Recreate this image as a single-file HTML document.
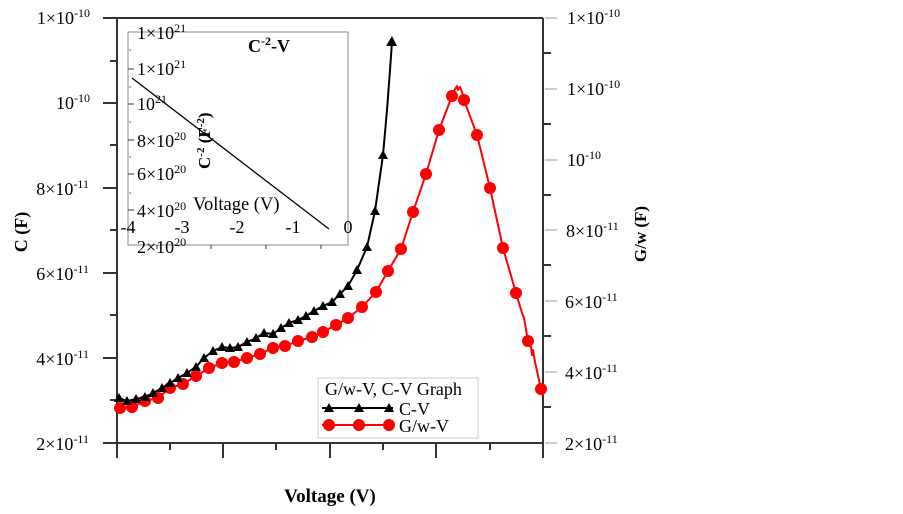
<!DOCTYPE html>
<html><head><meta charset="utf-8"><style>
html,body{margin:0;padding:0;background:#fff;}
svg{display:block;}
text{font-family:"Liberation Serif",serif;fill:#000;}
</style></head><body>
<svg width="903" height="514" viewBox="0 0 903 514" xmlns="http://www.w3.org/2000/svg">
<rect width="903" height="514" fill="#fff"/>
<!-- main frame -->
<g stroke="#333" stroke-width="2" fill="none">
<line x1="103" y1="18" x2="543" y2="18"/>
<line x1="117" y1="18" x2="117" y2="458"/>
<line x1="117" y1="443" x2="543" y2="443"/>
<line x1="543" y1="18" x2="543" y2="458"/>
<line x1="103" y1="103" x2="117" y2="103"/>
<line x1="103" y1="188" x2="117" y2="188"/>
<line x1="103" y1="273" x2="117" y2="273"/>
<line x1="103" y1="358" x2="117" y2="358"/>
<line x1="103" y1="443" x2="117" y2="443"/>
<line x1="110" y1="61" x2="117" y2="61"/>
<line x1="110" y1="145" x2="117" y2="145"/>
<line x1="110" y1="230" x2="117" y2="230"/>
<line x1="110" y1="315" x2="117" y2="315"/>
<line x1="110" y1="400" x2="117" y2="400"/>
<line x1="223" y1="443" x2="223" y2="458"/>
<line x1="330" y1="443" x2="330" y2="458"/>
<line x1="436" y1="443" x2="436" y2="458"/>
<line x1="170" y1="443" x2="170" y2="450"/>
<line x1="276" y1="443" x2="276" y2="450"/>
<line x1="383" y1="443" x2="383" y2="450"/>
<line x1="490" y1="443" x2="490" y2="450"/>
<line x1="543" y1="53" x2="551" y2="53"/>
<line x1="543" y1="124" x2="551" y2="124"/>
<line x1="543" y1="195" x2="551" y2="195"/>
<line x1="543" y1="265" x2="551" y2="265"/>
<line x1="543" y1="336" x2="551" y2="336"/>
<line x1="543" y1="407" x2="551" y2="407"/>
</g>
<g stroke="#ccc" stroke-width="2">
<line x1="545" y1="18" x2="557" y2="18"/>
<line x1="545" y1="89" x2="557" y2="89"/>
<line x1="545" y1="160" x2="557" y2="160"/>
<line x1="545" y1="230" x2="557" y2="230"/>
<line x1="545" y1="301" x2="557" y2="301"/>
<line x1="545" y1="372" x2="557" y2="372"/>
<line x1="545" y1="443" x2="557" y2="443"/>
</g>
<!-- left labels -->
<g font-size="18" text-anchor="end">
<text x="90" y="24">1×10<tspan font-size="12" dy="-7">-10</tspan></text>
<text x="90" y="109">10<tspan font-size="12" dy="-7">-10</tspan></text>
<text x="89" y="195">8×10<tspan font-size="12" dy="-7">-11</tspan></text>
<text x="89" y="280">6×10<tspan font-size="12" dy="-7">-11</tspan></text>
<text x="89" y="365">4×10<tspan font-size="12" dy="-7">-11</tspan></text>
<text x="89" y="450">2×10<tspan font-size="12" dy="-7">-11</tspan></text>
</g>
<!-- right labels -->
<g font-size="18">
<text x="567" y="24">1×10<tspan font-size="12" dy="-7">-10</tspan></text>
<text x="567" y="95">1×10<tspan font-size="12" dy="-7">-10</tspan></text>
<text x="567" y="166">10<tspan font-size="12" dy="-7">-10</tspan></text>
<text x="566" y="237">8×10<tspan font-size="12" dy="-7">-11</tspan></text>
<text x="565" y="308">6×10<tspan font-size="12" dy="-7">-11</tspan></text>
<text x="565" y="379">4×10<tspan font-size="12" dy="-7">-11</tspan></text>
<text x="565" y="450">2×10<tspan font-size="12" dy="-7">-11</tspan></text>
</g>
<!-- axis titles -->
<text x="0" y="0" font-size="18" font-weight="bold" text-anchor="middle" transform="translate(27,232) rotate(-90)">C (F)</text>
<text x="0" y="0" font-size="17" font-weight="bold" text-anchor="middle" transform="translate(646,234) rotate(-90)">G/w (F)</text>
<text x="330" y="502" font-size="19" font-weight="bold" text-anchor="middle">Voltage (V)</text>

<!-- inset -->
<rect x="128" y="32" width="220" height="213" fill="none" stroke="#888" stroke-width="1"/>
<g stroke="#555" stroke-width="1.2">
<line x1="128" y1="69" x2="134" y2="69"/>
<line x1="128" y1="104" x2="134" y2="104"/>
<line x1="128" y1="140" x2="134" y2="140"/>
<line x1="128" y1="174" x2="134" y2="174"/>
<line x1="128" y1="210" x2="134" y2="210"/>
<line x1="157" y1="245" x2="157" y2="249"/>
<line x1="211" y1="245" x2="211" y2="249"/>
<line x1="266" y1="245" x2="266" y2="249"/>
<line x1="321" y1="245" x2="321" y2="249"/>
</g>
<g fill="#bbb">
<rect x="129" y="49" width="2" height="2"/>
<rect x="129" y="86" width="2" height="2"/>
<rect x="129" y="121" width="2" height="2"/>
<rect x="129" y="156" width="2" height="2"/>
<rect x="129" y="192" width="2" height="2"/>
<rect x="129" y="228" width="2" height="2"/>
</g>
<g font-size="18">
<text x="137" y="39">1×10<tspan font-size="12" dy="-7">21</tspan></text>
<text x="137" y="75">1×10<tspan font-size="12" dy="-7">21</tspan></text>
<text x="137" y="110">10<tspan font-size="12" dy="-7">21</tspan></text>
<text x="137" y="147">8×10<tspan font-size="12" dy="-7">20</tspan></text>
<text x="137" y="180">6×10<tspan font-size="12" dy="-7">20</tspan></text>
<text x="137" y="217">4×10<tspan font-size="12" dy="-7">20</tspan></text>
<text x="137" y="253">2×10<tspan font-size="12" dy="-7">20</tspan></text>
</g>
<g font-size="18" text-anchor="middle">
<text x="128" y="233">-4</text>
<text x="182" y="233">-3</text>
<text x="237" y="233">-2</text>
<text x="293" y="233">-1</text>
<text x="348" y="233">0</text>
</g>
<text x="248" y="52" font-size="18" font-weight="bold">C<tspan font-size="12" dy="-7">-2</tspan><tspan dy="7">-V</tspan></text>
<text x="193" y="210" font-size="18.5">Voltage (V)</text>
<text x="0" y="0" font-size="17" font-weight="bold" transform="translate(210,169) rotate(-90)">C<tspan font-size="11" dy="-6">-2</tspan><tspan dy="6"> (F</tspan><tspan font-size="11" dy="-6">-2</tspan><tspan dy="6">)</tspan></text>
<line x1="132" y1="78" x2="329" y2="229" stroke="#000" stroke-width="1.3"/>

<!-- G/w-V red -->
<polyline fill="none" stroke="#f00" stroke-width="2" stroke-linejoin="round" points="118,409 120,408 132,407 145,401 158,398 170,388 183,384 196,376 209,368 222,363 234,362 247,358 260,354 273,348 285,346 298,341 312,337 323,332 336,325 348,318 362,307 376,292 388,271 401,249 413,212 426,174 439,130 452,96 455,89 457,86 458,90 460,87 462,92 464,100 477,135 490,188 503,248 516,293 522,313 524,318 528,341 531,347 532,355 533,350 535,362 541,389 543,396"/>
<g fill="#f00">
<circle cx="120" cy="408" r="6"/><circle cx="132" cy="407" r="6"/><circle cx="145" cy="401" r="6"/><circle cx="158" cy="398" r="6"/>
<circle cx="170" cy="388" r="6"/><circle cx="183" cy="384" r="6"/><circle cx="196" cy="376" r="6"/><circle cx="209" cy="368" r="6"/>
<circle cx="222" cy="363" r="6"/><circle cx="234" cy="362" r="6"/><circle cx="247" cy="358" r="6"/><circle cx="260" cy="354" r="6"/>
<circle cx="273" cy="348" r="6"/><circle cx="285" cy="346" r="6"/><circle cx="298" cy="341" r="6"/><circle cx="312" cy="337" r="6"/>
<circle cx="323" cy="332" r="6"/><circle cx="336" cy="325" r="6"/><circle cx="348" cy="318" r="6"/><circle cx="362" cy="307" r="6"/>
<circle cx="376" cy="292" r="6"/><circle cx="388" cy="271" r="6"/><circle cx="401" cy="249" r="6"/><circle cx="413" cy="212" r="6"/>
<circle cx="426" cy="174" r="6"/><circle cx="439" cy="130" r="6"/><circle cx="452" cy="96" r="6"/><circle cx="464" cy="100" r="6"/>
<circle cx="477" cy="135" r="6"/><circle cx="490" cy="188" r="6"/><circle cx="503" cy="248" r="6"/><circle cx="516" cy="293" r="6"/>
<circle cx="528" cy="341" r="6"/><circle cx="541" cy="389" r="6"/>
</g>

<!-- C-V black -->
<polyline fill="none" stroke="#000" stroke-width="2" stroke-linejoin="round" points="117,397 119,398 127,401 136,399 145,397 153,393 162,388 170,383 178,378 187,373 196,367 204,358 213,351 222,347 230,348 238,347 247,342 256,338 264,333 273,334 281,328 289,323 298,320 306,316 314,311 323,306 332,302 340,294 348,286 357,270 367,247 375,211 383,155 387,110 390,70 392,42"/>
<g fill="#000">
<path d="M119,393l5,9h-10z M127,396l5,9h-10z M136,394l5,9h-10z M145,392l5,9h-10z M153,388l5,9h-10z M162,383l5,9h-10z M170,378l5,9h-10z M178,373l5,9h-10z M187,368l5,9h-10z M196,362l5,9h-10z M204,353l5,9h-10z M213,346l5,9h-10z M222,342l5,9h-10z M230,343l5,9h-10z M238,342l5,9h-10z M247,337l5,9h-10z M256,333l5,9h-10z M264,328l5,9h-10z M273,329l5,9h-10z M281,323l5,9h-10z M289,318l5,9h-10z M298,315l5,9h-10z M306,311l5,9h-10z M314,306l5,9h-10z M323,301l5,9h-10z M332,297l5,9h-10z M340,289l5,9h-10z M348,281l5,9h-10z M357,265l5,9h-10z M367,242l5,9h-10z M375,206l5,9h-10z M383,150l5,9h-10z M392,36l5,10h-11z"/>
</g>

<!-- legend -->
<rect x="318" y="378" width="160" height="60" fill="#fff" stroke="#ccc" stroke-width="1"/>
<text x="325" y="395" font-size="18">G/w-V, C-V Graph</text>
<line x1="322" y1="408" x2="393" y2="408" stroke="#000" stroke-width="2"/>
<path d="M329,403l5,9h-10z M359,403l5,9h-10z M389,403l5,9h-10z" fill="#000"/>
<text x="399" y="415" font-size="18">C-V</text>
<line x1="322" y1="425" x2="393" y2="425" stroke="#f00" stroke-width="2"/>
<g fill="#f00"><circle cx="329" cy="425" r="6"/><circle cx="359" cy="425" r="6"/><circle cx="389" cy="425" r="6"/></g>
<text x="399" y="432" font-size="18">G/w-V</text>
</svg>
</body></html>
